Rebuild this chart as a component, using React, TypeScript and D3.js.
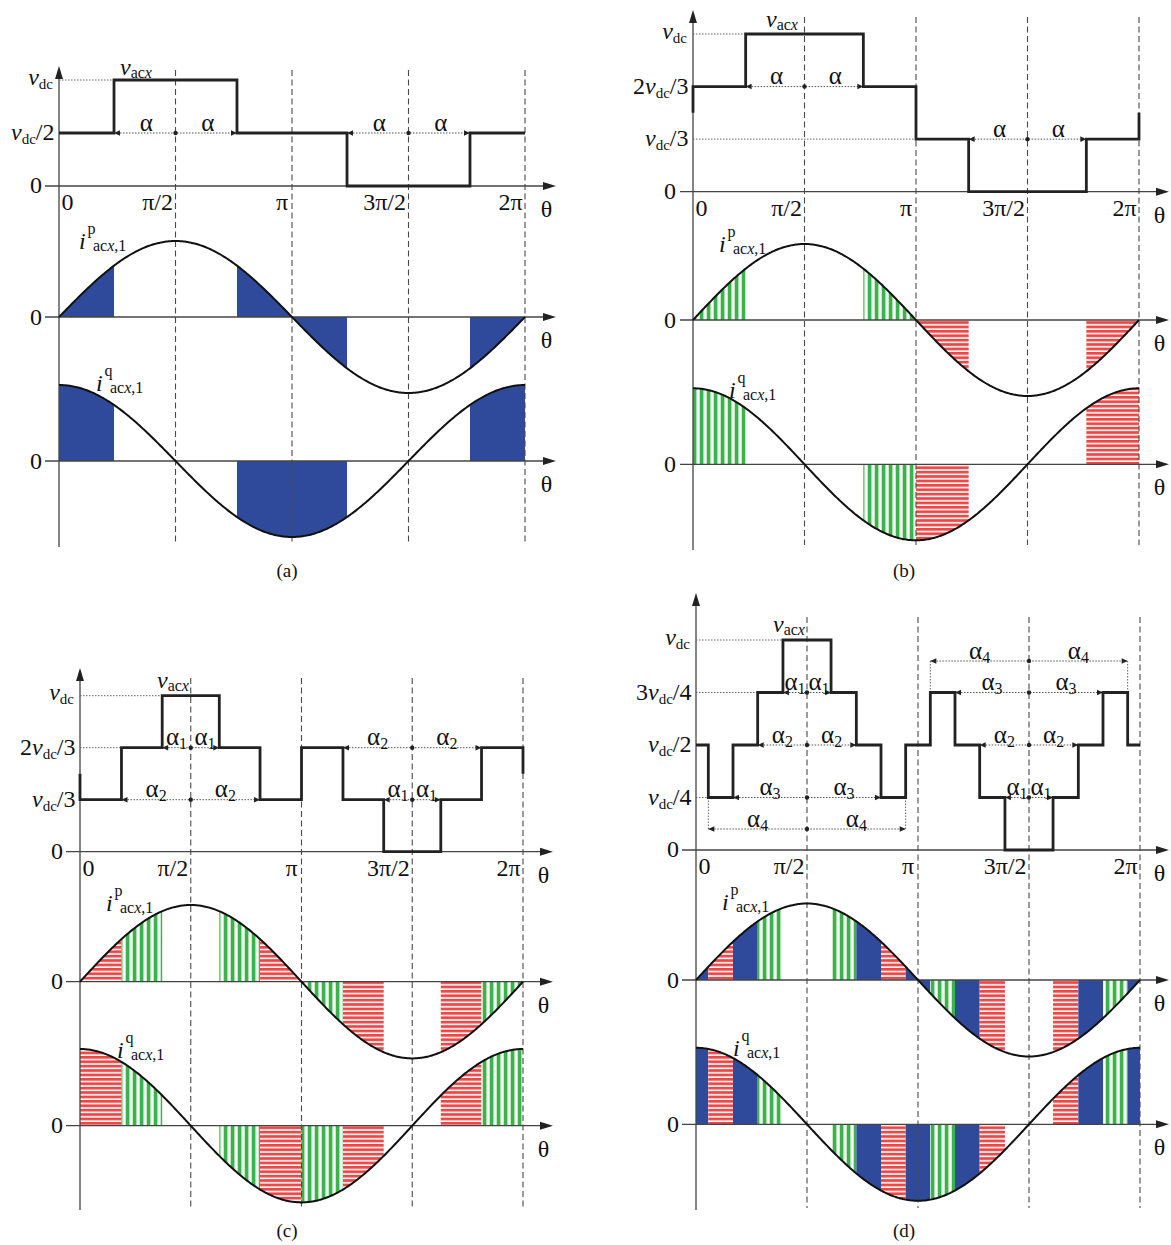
import React from "react";
import * as d3 from "d3";

const FONT = "'Liberation Serif', 'Times New Roman', serif";

// ---------------- data ----------------
const thetaTicks = [0, 90, 180, 270, 360];
const thetaTickLabels = ["0", "π/2", "π", "3π/2", "2π"];

// panel (a)
const aEdges = [0, 42.5, 137.5, 222.5, 317.5, 360];
const aLevels = [1 / 2, 1, 1 / 2, 0, 1 / 2];
const aFills = ["B", "", "B", "", "B"];
const aEnds = [1 / 2, 1 / 2];
const aLevelTicks = [0, 1 / 2, 1];
const aLevelLabels = ["0", "vdc/2", "vdc"];
const aGuides = [[1, 42.5]];
const aAlphas = [
  { lv: 1 / 2, from: 42.5, to: 137.5, mid: 90, sub: "" },
  { lv: 1 / 2, from: 222.5, to: 317.5, mid: 270, sub: "" },
];

// panel (b)
const bEdges = [0, 42.5, 137.5, 180, 222.5, 317.5, 360];
const bLevels = [2 / 3, 1, 2 / 3, 1 / 3, 0, 1 / 3];
const bFills = ["G", "", "G", "R", "", "R"];
const bEnds = [1 / 2, 1 / 2];
const bLevelTicks = [0, 1 / 3, 2 / 3, 1];
const bLevelLabels = ["0", "vdc/3", "2vdc/3", "vdc"];
const bGuides = [[1, 42.5], [1 / 3, 180]];
const bAlphas = [
  { lv: 2 / 3, from: 42.5, to: 137.5, mid: 90, sub: "" },
  { lv: 1 / 3, from: 222.5, to: 317.5, mid: 270, sub: "" },
];

// panel (c)
const cEdges = [0, 33.7, 66.8, 113.2, 146.3, 180, 213.7, 246.8, 293.2, 326.3, 360];
const cLevels = [1 / 3, 2 / 3, 1, 2 / 3, 1 / 3, 2 / 3, 1 / 3, 0, 1 / 3, 2 / 3];
const cFills = ["R", "G", "", "G", "R", "G", "R", "", "R", "G"];
const cEnds = [1 / 2, 1 / 2];
const cLevelTicks = [0, 1 / 3, 2 / 3, 1];
const cLevelLabels = ["0", "vdc/3", "2vdc/3", "vdc"];
const cGuides = [[1, 66.8], [2 / 3, 33.7]];
const cAlphas = [
  { lv: 2 / 3, from: 66.8, to: 113.2, mid: 90, sub: "1" },
  { lv: 1 / 3, from: 33.7, to: 146.3, mid: 90, sub: "2" },
  { lv: 2 / 3, from: 213.7, to: 326.3, mid: 270, sub: "2" },
  { lv: 1 / 3, from: 246.8, to: 293.2, mid: 270, sub: "1" },
];

// panel (d)
const dEdges = [0, 10, 30, 50, 70.5, 109.5, 130, 150, 170, 190, 210, 230, 250.5, 289.5, 310, 330, 350, 360];
const dLevels = [0.5, 0.25, 0.5, 0.75, 1, 0.75, 0.5, 0.25, 0.5, 0.75, 0.5, 0.25, 0, 0.25, 0.5, 0.75, 0.5];
const dFills = ["B", "R", "B", "G", "", "G", "B", "R", "B", "G", "B", "R", "", "R", "B", "G", "B"];
const dEnds = [0.5, 0.5];
const dLevelTicks = [0, 0.25, 0.5, 0.75, 1];
const dLevelLabels = ["0", "vdc/4", "vdc/2", "3vdc/4", "vdc"];
const dGuides = [[1, 70.5], [0.75, 50], [0.25, 10]];
const dAlphas = [
  { lv: 0.75, from: 70.5, to: 109.5, mid: 90, sub: "1" },
  { lv: 0.5, from: 50, to: 130, mid: 90, sub: "2" },
  { lv: 0.25, from: 30, to: 150, mid: 90, sub: "3" },
  { lv: 0.1, from: 10, to: 170, mid: 90, sub: "4", ext: 0.25 },
  { lv: 0.25, from: 250.5, to: 289.5, mid: 270, sub: "1" },
  { lv: 0.5, from: 230, to: 310, mid: 270, sub: "2" },
  { lv: 0.75, from: 210, to: 330, mid: 270, sub: "3" },
  { lv: 0.9, from: 190, to: 350, mid: 270, sub: "4", ext: 0.75 },
];

// ---------------- layout ----------------
const LAYOUT = {
  a: { x0: 59, x1: 525, v0: 186, v1: 80, ip0: 317, iq0: 461, amp: 76, yTop: 66, yBot: 547, dTop: 70, dBot: 543, hL: 45, hR: 556, vLab: [120, 75], ipLab: [79, 249], iqLab: [96, 391], cap: [287, 577], capText: "(a)" },
  b: { x0: 693, x1: 1139, v0: 191.7, v1: 34, ip0: 320, iq0: 464.3, amp: 76, yTop: 10, yBot: 550, dTop: 17, dBot: 545, hL: 680, hR: 1169, vLab: [766, 27], ipLab: [719, 252], iqLab: [729, 398], cap: [904, 577], capText: "(b)" },
  c: { x0: 80, x1: 523, v0: 851.7, v1: 695.7, ip0: 981.7, iq0: 1125.7, amp: 76.7, yTop: 668, yBot: 1210, dTop: 678, dBot: 1207, hL: 66, hR: 553, vLab: [157, 688], ipLab: [106, 911], iqLab: [117, 1058], cap: [287, 1237], capText: "(c)" },
  d: { x0: 696, x1: 1140, v0: 850, v1: 640, ip0: 980, iq0: 1124.3, amp: 76.5, yTop: 593, yBot: 1210, dTop: 617, dBot: 1208, hL: 682, hR: 1169, vLab: [773, 632], ipLab: [722, 910], iqLab: [733, 1056], cap: [904, 1237], capText: "(d)" },
};

const PANELS = [
  { key: "a", edges: aEdges, levels: aLevels, fills: aFills, ends: aEnds, ticks: aLevelTicks, labels: aLevelLabels, guides: aGuides, alphas: aAlphas },
  { key: "b", edges: bEdges, levels: bLevels, fills: bFills, ends: bEnds, ticks: bLevelTicks, labels: bLevelLabels, guides: bGuides, alphas: bAlphas },
  { key: "c", edges: cEdges, levels: cLevels, fills: cFills, ends: cEnds, ticks: cLevelTicks, labels: cLevelLabels, guides: cGuides, alphas: cAlphas },
  { key: "d", edges: dEdges, levels: dLevels, fills: dFills, ends: dEnds, ticks: dLevelTicks, labels: dLevelLabels, guides: dGuides, alphas: dAlphas },
];

const BLUE = "#304a9b";
const AXIS = "#444";
const FS = 24;
const SUB = 15;
const SUB2 = 16;

const fillOf = (c: string) => (c === "B" ? BLUE : c === "G" ? "url(#gStripe)" : "url(#rStripe)");

function VLabel({ x, y, text }: any) {
  if (!text.includes("vdc")) {
    return (
      <text x={x} y={y} textAnchor="end" fontSize={FS}>
        {text}
      </text>
    );
  }
  const [pre, post] = text.split("vdc");
  return (
    <text x={x} y={y} textAnchor="end" fontSize={FS}>
      {pre ? <tspan>{pre}</tspan> : null}
      <tspan fontStyle="italic">v</tspan>
      <tspan fontSize={SUB} dy={4}>dc</tspan>
      {post ? <tspan dy={-4}>{post}</tspan> : null}
    </text>
  );
}

function CurLabel({ x, y, sup }: any) {
  return (
    <g>
      <text x={x} y={y} fontSize={FS} fontStyle="italic">i</text>
      <text x={x + 8.5} y={y - 15} fontSize={SUB2}>{sup}</text>
      <text x={x + 14} y={y + 2} fontSize={SUB2}>
        ac<tspan fontStyle="italic">x</tspan>,1
      </text>
    </g>
  );
}

function Panel({ p }: any) {
  const L = (LAYOUT as any)[p.key];
  const xs = d3.scaleLinear().domain([0, 360]).range([L.x0, L.x1]);
  const vs = d3.scaleLinear().domain([0, 1]).range([L.v0, L.v1]);
  const ps = d3.scaleLinear().domain([-1, 1]).range([L.ip0 + L.amp, L.ip0 - L.amp]);
  const qs = d3.scaleLinear().domain([-1, 1]).range([L.iq0 + L.amp, L.iq0 - L.amp]);
  const rad = (t: number) => (t * Math.PI) / 180;
  const fp = (t: number) => Math.sin(rad(t));
  const fq = (t: number) => Math.cos(rad(t));

  // waveform
  const pts: [number, number][] = [[p.edges[0], p.ends[0]], [p.edges[0], p.levels[0]]];
  p.levels.forEach((lv: number, i: number) => {
    pts.push([p.edges[i + 1], lv]);
    if (i + 1 < p.levels.length) pts.push([p.edges[i + 1], p.levels[i + 1]]);
  });
  pts.push([p.edges[p.edges.length - 1], p.ends[1]]);
  const wave = d3.line<[number, number]>().x((d) => xs(d[0])).y((d) => vs(d[1]))(pts) as string;

  const samples = d3.range(0, 360.001, 1);
  const ipPath = d3.line<number>().x((t) => xs(t)).y((t) => ps(fp(t))).curve(d3.curveMonotoneX)(samples) as string;
  const iqPath = d3.line<number>().x((t) => xs(t)).y((t) => qs(fq(t))).curve(d3.curveMonotoneX)(samples) as string;

  const areas: any[] = [];
  p.fills.forEach((f: string, i: number) => {
    if (!f) return;
    const a = p.edges[i], b = p.edges[i + 1];
    const ts = d3.range(a, b, 0.5).concat([b]);
    const ap = d3.area<number>().x((t) => xs(t)).y0(ps(0)).y1((t) => ps(fp(t)))(ts) as string;
    const aq = d3.area<number>().x((t) => xs(t)).y0(qs(0)).y1((t) => qs(fq(t)))(ts) as string;
    areas.push(<path key={"p" + i} d={ap} fill={fillOf(f)} />);
    areas.push(<path key={"q" + i} d={aq} fill={fillOf(f)} />);
  });

  const hAxis = (y: number, k: string) => (
    <g key={k}>
      <line x1={L.hL} x2={L.hR - 10} y1={y} y2={y} stroke={AXIS} strokeWidth={1.3} />
      <polygon points={`${L.hR},${y} ${L.hR - 13},${y - 4} ${L.hR - 13},${y + 4}`} fill="#222" />
      <text x={L.hR - 9.5} y={y + 31} fontSize={FS} textAnchor="middle">θ</text>
    </g>
  );

  return (
    <g>
      {areas}
      {/* dashed verticals */}
      {thetaTicks.slice(1).map((t) => (
        <line key={t} x1={xs(t)} x2={xs(t)} y1={L.dTop} y2={L.dBot} stroke="#4a4a4a" strokeWidth={1.1} strokeDasharray="6,3.5" />
      ))}
      {/* y axis */}
      <line x1={L.x0} x2={L.x0} y1={L.yTop + 8} y2={L.yBot} stroke={AXIS} strokeWidth={1.3} />
      <polygon points={`${L.x0},${L.yTop} ${L.x0 - 4},${L.yTop + 13} ${L.x0 + 4},${L.yTop + 13}`} fill="#222" />
      {hAxis(vs(0), "v")}
      {hAxis(ps(0), "p")}
      {hAxis(qs(0), "q")}
      {/* zero labels for current axes */}
      <text x={L.x0 - 17} y={ps(0) + 7.5} fontSize={FS} textAnchor="end">0</text>
      <text x={L.x0 - 17} y={qs(0) + 7.5} fontSize={FS} textAnchor="end">0</text>
      {/* level labels */}
      {p.ticks.map((lv: number, i: number) => {
        const t = p.labels[i];
        const dx = t === "0" ? -17 : t === "vdc" ? -6 : -4.5;
        const dy = t === "vdc" ? 4.5 : 7;
        return <VLabel key={i} x={L.x0 + dx} y={vs(lv) + dy} text={t} />;
      })}
      {/* guides */}
      {p.guides.map((g: number[], i: number) => (
        <line key={i} x1={L.x0} x2={xs(g[1])} y1={vs(g[0])} y2={vs(g[0])} stroke="#666" strokeWidth={1} strokeDasharray="1.5,1.5" />
      ))}
      {/* theta ticks */}
      {thetaTicks.map((t, i) => {
        const lab = thetaTickLabels[i];
        const y = vs(0) + 24;
        if (i === 0) return <text key={i} x={xs(t) + 2.5} y={y} fontSize={FS}>{lab}</text>;
        const off = lab === "π" ? -4 : lab === "2π" ? -2.5 : -2.5;
        return <text key={i} x={xs(t) + off} y={y} fontSize={FS} textAnchor="end">{lab}</text>;
      })}
      {/* alpha annotations */}
      {p.alphas.map((a: any, i: number) => {
        const y = vs(a.lv);
        const xa = xs(a.from), xb = xs(a.to), xm = xs(a.mid);
        return (
          <g key={i}>
            {a.ext !== undefined ? (
              <g>
                <line x1={xa} x2={xa} y1={vs(a.ext)} y2={y} stroke="#666" strokeDasharray="1.5,1.5" />
                <line x1={xb} x2={xb} y1={vs(a.ext)} y2={y} stroke="#666" strokeDasharray="1.5,1.5" />
              </g>
            ) : null}
            <line x1={xa} x2={xb} y1={y} y2={y} stroke="#555" strokeWidth={1} strokeDasharray="1.5,1.5" />
            <polygon points={`${xa},${y} ${xa + 6},${y - 2.8} ${xa + 6},${y + 2.8}`} fill="#222" />
            <polygon points={`${xb},${y} ${xb - 6},${y - 2.8} ${xb - 6},${y + 2.8}`} fill="#222" />
            <circle cx={xm} cy={y} r={2.2} fill="#222" />
            {[(xa + xm) / 2, (xm + xb) / 2].map((cx, j) => (
              <text key={j} x={cx + (a.sub ? 0 : 1.5)} y={y - 2.5} fontSize={25} textAnchor="middle">
                α{a.sub ? <tspan fontSize={16} dy={4}>{a.sub}</tspan> : null}
              </text>
            ))}
          </g>
        );
      })}
      {/* currents */}
      <path d={ipPath} fill="none" stroke="#111" strokeWidth={2} />
      <path d={iqPath} fill="none" stroke="#111" strokeWidth={2} />
      {/* waveform */}
      <path d={wave} fill="none" stroke="#222" strokeWidth={2.8} strokeLinejoin="miter" />
      {/* labels */}
      <text x={L.vLab[0]} y={L.vLab[1]} fontSize={FS}>
        <tspan fontStyle="italic">v</tspan>
        <tspan fontSize={SUB2} dy={3}>ac</tspan>
        <tspan fontSize={SUB2} fontStyle="italic">x</tspan>
      </text>
      <CurLabel x={L.ipLab[0]} y={L.ipLab[1]} sup="p" />
      <CurLabel x={L.iqLab[0]} y={L.iqLab[1]} sup="q" />
      <text x={L.cap[0]} y={L.cap[1]} fontSize={19} textAnchor="middle">{L.capText}</text>
    </g>
  );
}

export default function App() {
  return (
    <svg
      width={1171}
      height={1245}
      viewBox="0 0 1171 1245"
      style={{ position: "absolute", left: 0, top: 0, background: "#fff" }}
      fontFamily={FONT}
      fill="#111"
    >
      <defs>
        <pattern id="gStripe" patternUnits="userSpaceOnUse" width={7} height={8}>
          <rect width={7} height={8} fill="#fff" />
          <rect x={0} width={3.5} height={8} fill="#39b34a" />
          <rect x={3.5} width={0.8} height={8} fill="#b9e3bd" />
          <rect x={6.2} width={0.8} height={8} fill="#b9e3bd" />
        </pattern>
        <pattern id="rStripe" patternUnits="userSpaceOnUse" width={8} height={4.4}>
          <rect width={8} height={4.4} fill="#fff" />
          <rect y={0} width={8} height={2.6} fill="#ef4545" />
          <rect y={2.6} width={8} height={0.5} fill="#f8b4b4" />
        </pattern>
      </defs>
      <rect width={1171} height={1245} fill="#fff" />
      {PANELS.map((p) => (
        <Panel key={p.key} p={p} />
      ))}
    </svg>
  );
}
